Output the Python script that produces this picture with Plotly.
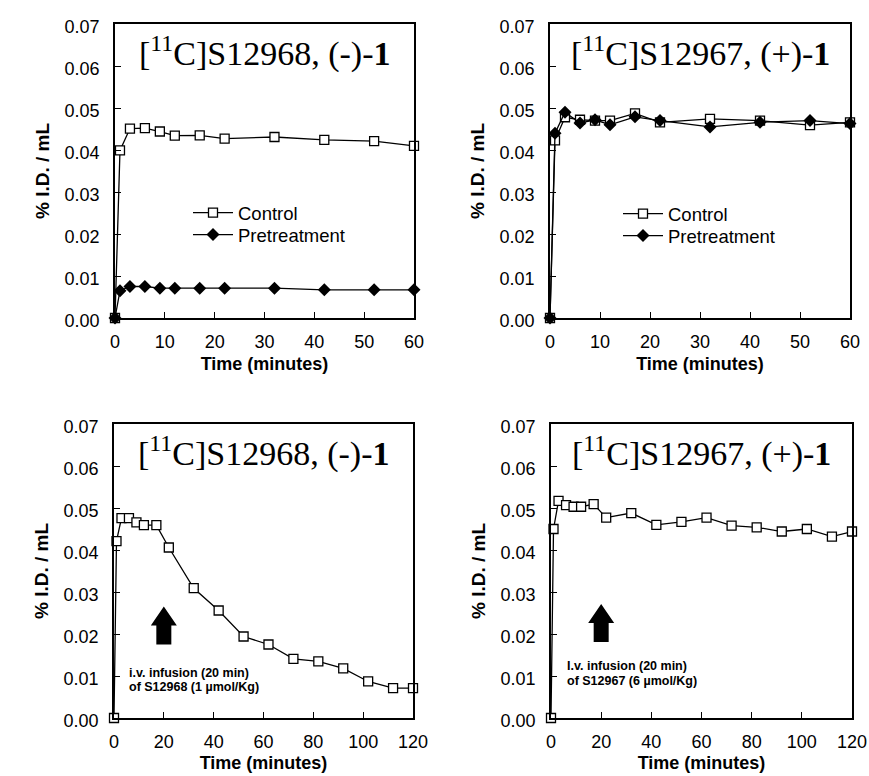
import plotly.graph_objects as go

# ---------------- data ----------------
t_short = [0, 1, 3, 6, 9, 12, 17, 22, 32, 42, 52, 60]
ctrl_s12968 = [0, 0.0399, 0.0451, 0.0452, 0.0444, 0.0434, 0.0435, 0.0427, 0.0431, 0.0424, 0.0421, 0.0410]
pre_s12968 = [0, 0.0065, 0.0075, 0.0075, 0.0071, 0.0071, 0.0071, 0.0071, 0.0071, 0.0067, 0.0067, 0.0067]
ctrl_s12967 = [0, 0.0423, 0.0478, 0.0472, 0.0470, 0.0470, 0.0487, 0.0466, 0.0474, 0.0470, 0.0459, 0.0466]
pre_s12967 = [0, 0.0440, 0.0490, 0.0464, 0.0472, 0.0460, 0.0479, 0.0470, 0.0455, 0.0466, 0.0470, 0.0463]

t_long = [0, 1, 3, 6, 9, 12, 17, 22, 32, 42, 52, 62, 72, 82, 92, 102, 112, 120]
inf_s12968 = [0, 0.0421, 0.0476, 0.0476, 0.0466, 0.0459, 0.0459, 0.0406, 0.0309, 0.0256, 0.0194,
              0.0175, 0.0141, 0.0135, 0.0118, 0.0087, 0.0071, 0.0071]
inf_s12967 = [0, 0.0450, 0.0517, 0.0507, 0.0503, 0.0503, 0.0509, 0.0477, 0.0488, 0.0460, 0.0467,
              0.0477, 0.0458, 0.0454, 0.0444, 0.0450, 0.0432, 0.0444]

y_ticks = [0, 0.01, 0.02, 0.03, 0.04, 0.05, 0.06, 0.07]
titles = ["[<sup>11</sup>C]S12968, (-)-<b>1</b>", "[<sup>11</sup>C]S12967, (+)-<b>1</b>",
          "[<sup>11</sup>C]S12968, (-)-<b>1</b>", "[<sup>11</sup>C]S12967, (+)-<b>1</b>"]
infusion_line1 = ["i.v. infusion (20 min)", "I.v. infusion (20 min)"]
infusion_line2 = ["of S12968 (1 µmol/Kg)", "of S12967 (6 µmol/Kg)"]
infusion_time = 20
arrow_base = [0.0175, 0.0181]

# ---------------- styles ----------------
W, H = 869, 776
SANS = "Liberation Sans, Arial, sans-serif"
SERIF = "Liberation Serif, Times New Roman, serif"

sq = dict(symbol="square", size=9, color="white", line=dict(color="black", width=1.3))
dm = dict(symbol="diamond", size=10, color="black", line=dict(color="black", width=0))
ln = dict(color="black", width=1.3)

fig = go.Figure()

def add(x, y, xa, ya, name, marker, showlegend, legend):
    fig.add_trace(go.Scatter(x=x, y=y, xaxis=xa, yaxis=ya, name=name, mode="lines+markers",
                             marker=marker, line=ln, cliponaxis=False,
                             showlegend=showlegend, legend=legend))

add(t_short, ctrl_s12968, "x", "y", "Control", sq, True, "legend")
add(t_short, pre_s12968, "x", "y", "Pretreatment", dm, True, "legend3")
add(t_short, ctrl_s12967, "x2", "y2", "Control", sq, True, "legend2")
add(t_short, pre_s12967, "x2", "y2", "Pretreatment", dm, True, "legend4")
add(t_long, inf_s12968, "x3", "y3", "S12968", sq, False, "legend")
add(t_long, inf_s12967, "x4", "y4", "S12967", sq, False, "legend")

def px_x(a, b):
    return [a / W, b / W]

def px_y(top, bottom):
    return [1 - bottom / H, 1 - top / H]

axis_common = dict(showline=True, linecolor="black", linewidth=1.5, mirror=True,
                   ticks="inside", ticklen=6, tickwidth=1.3, tickcolor="black",
                   showgrid=False, zeroline=False, automargin=False,
                   tickfont=dict(family=SANS, size=18, color="black"))

def xaxis(domain, anchor, rng, dtick, standoff):
    return dict(axis_common, domain=domain, anchor=anchor, range=rng, dtick=dtick, tick0=0,
                ticklabelstandoff=7,
                title=dict(text="<b>Time (minutes)</b>", standoff=standoff,
                           font=dict(family=SANS, size=18, color="black")))

def yaxis(domain, anchor):
    return dict(axis_common, domain=domain, anchor=anchor, range=[0, 0.07],
                tickvals=y_ticks, tickformat=".2f", ticklabelstandoff=10, ticklabelshift=3,
                title=dict(text="<b>% I.D. / mL</b>", standoff=10,
                           font=dict(family=SANS, size=19, color="black")))

legend_common = dict(bgcolor="rgba(0,0,0,0)", borderwidth=0, xanchor="left", yanchor="middle",
                     font=dict(family=SANS, size=18.5, color="black"), tracegroupgap=0,
                     itemwidth=40)

fig.update_layout(
    width=W, height=H, autosize=False,
    margin=dict(l=0, r=0, t=0, b=0, autoexpand=False),
    paper_bgcolor="white", plot_bgcolor="white",
    font=dict(family=SANS, color="black"),
    xaxis=xaxis(px_x(115, 414), "y", [0, 60], 10, 6),
    yaxis=yaxis(px_y(24, 318), "x"),
    xaxis2=xaxis(px_x(550, 850), "y2", [0, 60], 10, 6),
    yaxis2=yaxis(px_y(24, 318), "x2"),
    xaxis3=xaxis(px_x(114, 413), "y3", [0, 120], 20, 5),
    yaxis3=yaxis(px_y(424, 718), "x3"),
    xaxis4=xaxis(px_x(551, 852), "y4", [0, 120], 20, 5),
    yaxis4=yaxis(px_y(424, 718), "x4"),
    legend=dict(legend_common, x=188 / W, y=1 - 213 / H),
    legend3=dict(legend_common, x=188 / W, y=1 - 235 / H),
    legend2=dict(legend_common, x=618 / W, y=1 - 214 / H),
    legend4=dict(legend_common, x=618 / W, y=1 - 236 / H),
)

# Panel titles
for i, txt in enumerate(titles):
    sfx = "" if i == 0 else str(i + 1)
    fig.add_annotation(text=txt, xref=f"x{sfx} domain", yref=f"y{sfx} domain",
                       x=0.5, y=0.907, xanchor="center", yanchor="middle", showarrow=False,
                       font=dict(family=SERIF, size=34, color="black"))

# Infusion notes and arrows (bottom panels)
note_y1 = [0.153, 0.177]
note_y2 = [0.105, 0.127]
for k, sfx in enumerate(["3", "4"]):
    for txt, yy in ((infusion_line1[k], note_y1[k]), (infusion_line2[k], note_y2[k])):
        fig.add_annotation(text=f"<b>{txt}</b>", xref=f"x{sfx} domain", yref=f"y{sfx} domain",
                           x=0.045, y=yy, xanchor="left", yanchor="middle", align="left",
                           showarrow=False, font=dict(family=SANS, size=12.5, color="black"))
    fig.add_shape(type="path", xref=f"x{sfx}", yref=f"y{sfx}",
                  xsizemode="pixel", ysizemode="pixel", xanchor=infusion_time, yanchor=arrow_base[k],
                  path="M -7.5 0 L 7.5 0 L 7.5 19 L 13 19 L 0 38 L -13 19 L -7.5 19 Z",
                  fillcolor="black", line=dict(color="black", width=0))

fig.write_html("out.html", config={"displayModeBar": False},
               post_script="document.body.style.margin='0';")
